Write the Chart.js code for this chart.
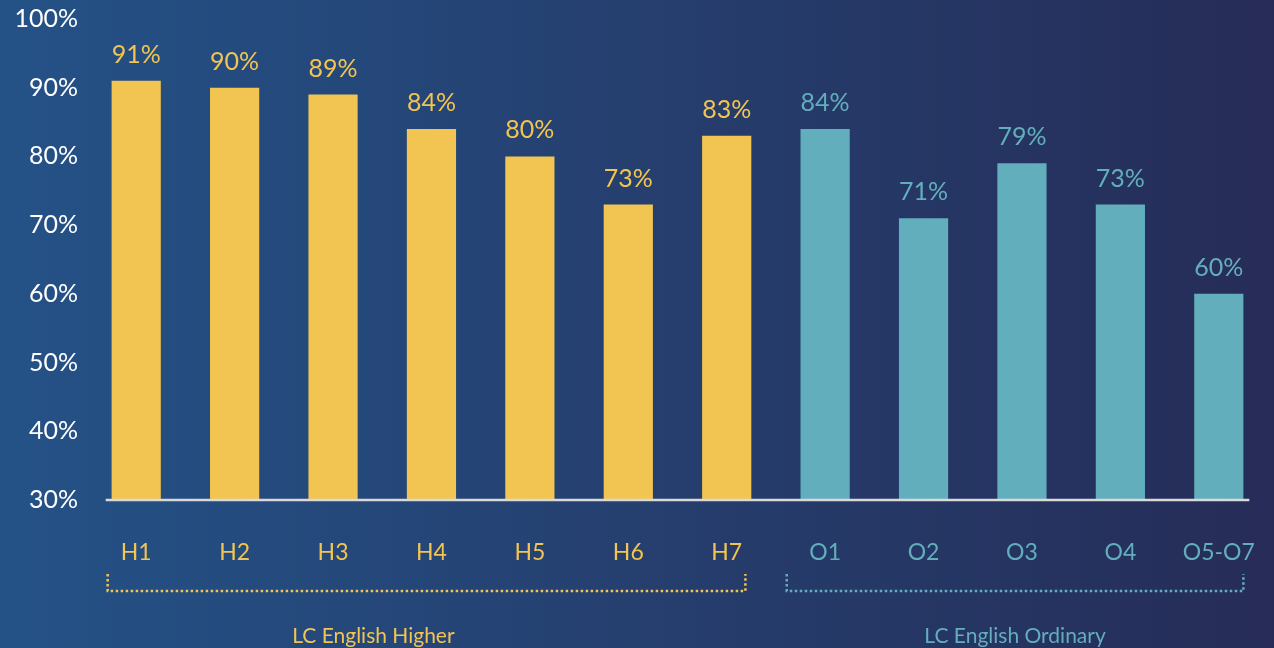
<!DOCTYPE html>
<html>
<head>
<meta charset="utf-8">
<script src="https://cdn.jsdelivr.net/npm/chart.js@4"></script>
<style>
    html, body { margin: 0; padding: 0; background: #25407a; }
    #wrap { width: 1274px; height: 648px; }
</style>
</head>
<body>
<div id="wrap"><canvas id="resultsChart" width="1274" height="648"></canvas></div>
<script>
// Chart data
const levels = ['H1', 'H2', 'H3', 'H4', 'H5', 'H6', 'H7', 'O1', 'O2', 'O3', 'O4', 'O5-O7'];
const passRates = [91, 90, 89, 84, 80, 73, 83, 84, 71, 79, 73, 60];
const groupNames = ['LC English Higher', 'LC English Ordinary'];
const groupFirst = ['H1', 'O1'];
const groupLast = ['H7', 'O5-O7'];
const yTicks = [30, 40, 50, 60, 70, 80, 90, 100];

const YELLOW = '#f2c451';
const TEAL = '#63aebc';
const FONT = 'Lato, "Open Sans", sans-serif';

// colour per bar: yellow for Higher, teal for Ordinary
const levelColor = levels.map(l => l.startsWith('H') ? YELLOW : TEAL);

// Gradient background behind everything
const backgroundPlugin = {
    id: 'bg',
    beforeDraw(chart) {
        const ctx = chart.ctx;
        const g = ctx.createLinearGradient(0, 0, chart.width, 0);
        g.addColorStop(0, '#245287');
        g.addColorStop(1, '#262c57');
        ctx.save();
        ctx.fillStyle = g;
        ctx.fillRect(0, 0, chart.width, chart.height);
        ctx.restore();
    }
};

// Baseline, value labels and the dotted group brackets
const decorPlugin = {
    id: 'decor',
    afterDatasetsDraw(chart) {
        const ctx = chart.ctx;
        const x = chart.scales.x;
        const y = chart.scales.y;
        const step = x.getPixelForValue(1) - x.getPixelForValue(0);
        const baseY = y.getPixelForValue(yTicks[0]);

        ctx.save();
        // white baseline
        ctx.strokeStyle = '#d9d9d9';
        ctx.lineWidth = 2.5;
        ctx.beginPath();
        ctx.moveTo(x.getPixelForValue(0) - step * 0.31, baseY);
        ctx.lineTo(x.getPixelForValue(levels.length - 1) + step * 0.31, baseY);
        ctx.stroke();

        // value labels above bars
        ctx.font = '25px ' + FONT;
        ctx.textAlign = 'center';
        ctx.textBaseline = 'alphabetic';
        chart.getDatasetMeta(0).data.forEach((bar, i) => {
            ctx.fillStyle = levelColor[i];
            ctx.fillText(passRates[i] + '%', bar.x, bar.y - 18);
        });

        // dotted brackets
        const pads = [[-0.29, 0.19], [-0.39, 0.25]];
        const labelShift = [-0.54, 0];
        ctx.lineWidth = 2.5;
        ctx.setLineDash([2.5, 2.5]);
        groupNames.forEach((name, gi) => {
            const i0 = levels.indexOf(groupFirst[gi]);
            const i1 = levels.indexOf(groupLast[gi]);
            const x0 = x.getPixelForValue(i0) + step * pads[gi][0];
            const x1 = x.getPixelForValue(i1) + step * pads[gi][1];
            const col = levelColor[i0];
            ctx.strokeStyle = col;
            ctx.beginPath();
            ctx.moveTo(x0, baseY + 74);
            ctx.lineTo(x0, baseY + 91);
            ctx.lineTo(x1, baseY + 91);
            ctx.lineTo(x1, baseY + 74);
            ctx.stroke();

            ctx.fillStyle = col;
            ctx.font = '21px ' + FONT;
            ctx.textBaseline = 'middle';
            ctx.fillText(name, (x0 + x1) / 2 + step * labelShift[gi], baseY + 136);
        });
        ctx.restore();
    }
};

const ctx = document.getElementById('resultsChart').getContext('2d');
const resultsChart = new Chart(ctx, {
    type: 'bar',
    data: {
        labels: levels,
        datasets: [{
            data: passRates,
            backgroundColor: levelColor,
            borderWidth: 0,
            barPercentage: 0.5,
            categoryPercentage: 1.0
        }]
    },
    options: {
        responsive: false,
        animation: false,
        layout: { padding: { left: 0, right: 6, top: 19, bottom: 0 } },
        plugins: {
            legend: { display: false },
            tooltip: { enabled: false }
        },
        scales: {
            x: {
                grid: { display: false },
                border: { display: false },
                ticks: {
                    color: levelColor,
                    font: { family: FONT, size: 23 },
                    padding: 31,
                    maxRotation: 0
                },
                afterFit: scale => {
                    scale.height = 148;
                    scale.paddingLeft = 0;
                    scale.paddingRight = 0;
                }
            },
            y: {
                min: yTicks[0],
                max: yTicks[yTicks.length - 1],
                grid: { display: false },
                border: { display: false },
                afterBuildTicks: scale => { scale.ticks = yTicks.map(v => ({ value: v })); },
                ticks: {
                    color: '#ffffff',
                    font: { family: FONT, size: 25 },
                    padding: 1,
                    callback: v => v + '%'
                },
                afterFit: scale => {
                    scale.width = 87;
                    scale.paddingTop = 0;
                    scale.paddingBottom = 0;
                }
            }
        }
    },
    plugins: [backgroundPlugin, decorPlugin]
});
</script>
</body>
</html>
